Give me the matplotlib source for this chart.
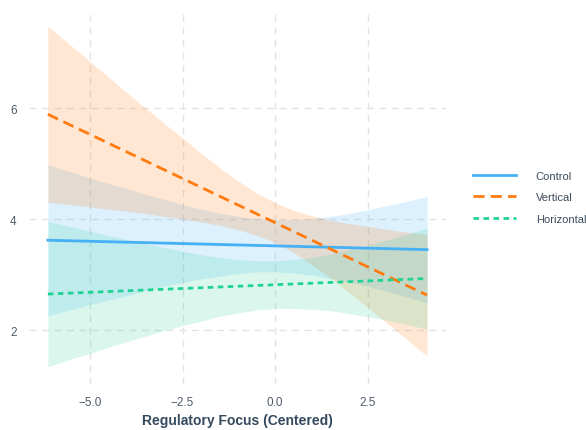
import matplotlib.pyplot as plt

plt.rcParams['font.family'] = ['Liberation Sans', 'DejaVu Sans']

# regulatory focus (centered) grid for the 95% bands
focus = [-6.14, -5.5, -5, -4.5, -4, -3.5, -3, -2.5, -2, -1.5, -1, -0.5,
         0, 0.5, 1, 1.5, 2, 2.5, 3, 3.5, 4.11]

control_lo = [2.26, 2.37, 2.46, 2.54, 2.62, 2.71, 2.79, 2.86, 2.92, 2.97, 3.02, 3.05,
              3.05, 3.03, 2.99, 2.93, 2.87, 2.79, 2.70, 2.61, 2.49]
control_hi = [4.98, 4.85, 4.74, 4.64, 4.55, 4.45, 4.36, 4.26, 4.18, 4.11, 4.05, 4.01,
              3.99, 3.99, 4.01, 4.05, 4.10, 4.17, 4.24, 4.31, 4.41]

vertical_lo = [4.30, 4.26, 4.22, 4.18, 4.14, 4.10, 4.05, 4.00, 3.95, 3.89, 3.81, 3.71,
               3.58, 3.40, 3.18, 2.94, 2.68, 2.41, 2.14, 1.87, 1.53]
vertical_hi = [7.48, 7.12, 6.84, 6.56, 6.28, 6.00, 5.73, 5.46, 5.19, 4.93, 4.69, 4.47,
               4.30, 4.16, 4.06, 3.98, 3.92, 3.87, 3.82, 3.77, 3.73]

horizontal_lo = [1.34, 1.48, 1.58, 1.69, 1.79, 1.89, 1.99, 2.08, 2.16, 2.25, 2.31, 2.36,
                 2.39, 2.39, 2.37, 2.35, 2.30, 2.24, 2.18, 2.11, 2.02]
horizontal_hi = [3.96, 3.86, 3.78, 3.70, 3.63, 3.55, 3.49, 3.42, 3.36, 3.31, 3.27, 3.25,
                 3.25, 3.27, 3.31, 3.37, 3.45, 3.53, 3.62, 3.71, 3.84]

# fitted lines (ends of the observed range)
fit_x = [-6.14, 4.11]
control_fit = [3.62, 3.45]
vertical_fit = [5.89, 2.63]
horizontal_fit = [2.65, 2.93]

x_ticks = [-5.0, -2.5, 0.0, 2.5]
y_ticks = [2, 4, 6]

blue = '#45b0f5'
orange = '#ff7b0f'
green = '#1fd394'

fig = plt.figure(figsize=(5.86, 4.31), dpi=100)
ax = fig.add_axes([0.0495, 0.107, 0.7115, 0.870])

ax.fill_between(focus, control_lo, control_hi, color=blue, alpha=0.18, linewidth=0)
ax.fill_between(focus, vertical_lo, vertical_hi, color=orange, alpha=0.18, linewidth=0)
ax.fill_between(focus, horizontal_lo, horizontal_hi, color=green, alpha=0.16, linewidth=0)

ax.plot(fit_x, control_fit, color=blue, lw=2.0, label='Control')
ax.plot(fit_x, vertical_fit, color=orange, lw=2.0, ls=(0, (4, 2.2)), label='Vertical')
ax.plot(fit_x, horizontal_fit, color=green, lw=2.0, ls=(0, (2, 1.6)), label='Horizontal')

ax.set_xlim(-6.65, 4.62)
ax.set_ylim(1.03, 7.79)
ax.set_xticks(x_ticks)
ax.set_yticks(y_ticks)
ax.set_xticklabels(['\u22125.0', '\u22122.5', '0.0', '2.5'])
ax.grid(True, color='#e3e3e3', ls=(0, (5, 4)), lw=1.0)
ax.set_axisbelow(True)
for s in ax.spines.values():
    s.set_visible(False)
ax.tick_params(length=0, labelsize=8.5, labelcolor='#4d5b6b', pad=9)

ax.set_xlabel('Regulatory Focus (Centered)', fontsize=10, fontweight='bold',
              color='#34495e', labelpad=3)

fig.legend(loc='center left', bbox_to_anchor=(0.808, 0.54), frameon=False,
           fontsize=8, labelcolor='#3d4b5c', handlelength=3.8, handletextpad=1.8,
           labelspacing=1.05, borderaxespad=0, borderpad=0)

fig.savefig('out.png', dpi=100, facecolor='white')
